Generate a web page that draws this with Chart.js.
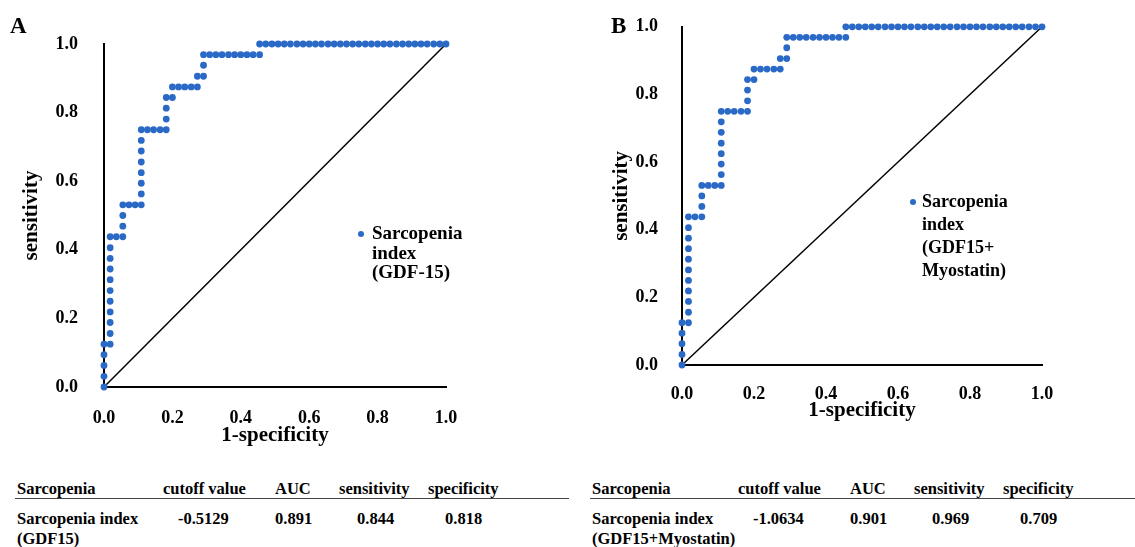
<!DOCTYPE html>
<html>
<head>
<meta charset="utf-8">
<script src="https://cdn.jsdelivr.net/npm/chart.js@4.4.0/dist/chart.umd.min.js"></script>
<style>
  body { margin: 0; background: #fff; }
  #page { position: relative; width: 1135px; height: 547px; overflow: hidden;
          font-family: 'Liberation Serif', 'Times New Roman', serif; font-weight: bold; color: #000; }
  .abs { position: absolute; white-space: nowrap; }
  canvas { position: absolute; top: 0; }
  .panel { font-size: 23px; line-height: 23px; }
  .cell { font-size: 16.5px; line-height: 20px; }
  .dot { position: absolute; width: 6px; height: 6px; border-radius: 50%; background: #2a69c6; }
  .rule { position: absolute; height: 1px; background: #444; }
</style>
</head>
<body>
<div id="page">
  <canvas id="rocA" width="565" height="460" style="left:0px"></canvas>
  <canvas id="rocB" width="565" height="460" style="left:570px"></canvas>
  <div class="abs panel" style="left:10px;top:14px">A</div>
  <div class="abs panel" style="left:611px;top:14px">B</div>
</div>
<script>
// ROC points, panel A (1-specificity, sensitivity)
const fprA = [
  0, 0, 0, 0, 0,
  0.018, 0.018, 0.018, 0.018, 0.018, 0.018, 0.018, 0.018, 0.018, 0.018, 0.018,
  0.036,
  0.055, 0.055, 0.055, 0.055,
  0.073, 0.091,
  0.109, 0.109, 0.109, 0.109, 0.109, 0.109, 0.109, 0.109,
  0.127, 0.145, 0.164,
  0.182, 0.182, 0.182, 0.182,
  0.2, 0.2,
  0.218, 0.236, 0.255,
  0.273, 0.273,
  0.291, 0.291, 0.291,
  0.309, 0.327, 0.345, 0.364, 0.382, 0.4, 0.418, 0.436,
  0.455, 0.455,
  0.473, 0.491, 0.509, 0.527, 0.545, 0.564, 0.582, 0.6, 0.618, 0.636,
  0.655, 0.673, 0.691, 0.709, 0.727, 0.745, 0.764, 0.782, 0.8, 0.818,
  0.836, 0.855, 0.873, 0.891, 0.909, 0.927, 0.945, 0.964, 0.982, 1
];
const tprA = [
  0, 0.031, 0.063, 0.094, 0.125,
  0.125, 0.156, 0.188, 0.219, 0.25, 0.281, 0.313, 0.344, 0.375, 0.406, 0.438,
  0.438,
  0.438, 0.469, 0.5, 0.531,
  0.531, 0.531,
  0.531, 0.563, 0.594, 0.625, 0.656, 0.688, 0.719, 0.75,
  0.75, 0.75, 0.75,
  0.75, 0.781, 0.813, 0.844,
  0.844, 0.875,
  0.875, 0.875, 0.875,
  0.875, 0.906,
  0.906, 0.938, 0.969,
  0.969, 0.969, 0.969, 0.969, 0.969, 0.969, 0.969, 0.969,
  0.969, 1,
  1, 1, 1, 1, 1, 1, 1, 1, 1, 1,
  1, 1, 1, 1, 1, 1, 1, 1, 1, 1,
  1, 1, 1, 1, 1, 1, 1, 1, 1, 1
];

// ROC points, panel B
const fprB = [
  0, 0, 0, 0, 0,
  0.018, 0.018, 0.018, 0.018, 0.018, 0.018, 0.018, 0.018, 0.018, 0.018, 0.018,
  0.036,
  0.055, 0.055, 0.055, 0.055,
  0.073, 0.091,
  0.109, 0.109, 0.109, 0.109, 0.109, 0.109, 0.109, 0.109,
  0.127, 0.145, 0.164,
  0.182, 0.182, 0.182, 0.182,
  0.2, 0.2,
  0.218, 0.236, 0.255,
  0.273, 0.273,
  0.291, 0.291, 0.291,
  0.309, 0.327, 0.345, 0.364, 0.382, 0.4, 0.418, 0.436,
  0.455, 0.455,
  0.473, 0.491, 0.509, 0.527, 0.545, 0.564, 0.582, 0.6, 0.618, 0.636,
  0.655, 0.673, 0.691, 0.709, 0.727, 0.745, 0.764, 0.782, 0.8, 0.818,
  0.836, 0.855, 0.873, 0.891, 0.909, 0.927, 0.945, 0.964, 0.982, 1
];
const tprB = [
  0, 0.031, 0.063, 0.094, 0.125,
  0.125, 0.156, 0.188, 0.219, 0.25, 0.281, 0.313, 0.344, 0.375, 0.406, 0.438,
  0.438,
  0.438, 0.469, 0.5, 0.531,
  0.531, 0.531,
  0.531, 0.563, 0.594, 0.625, 0.656, 0.688, 0.719, 0.75,
  0.75, 0.75, 0.75,
  0.75, 0.781, 0.813, 0.844,
  0.844, 0.875,
  0.875, 0.875, 0.875,
  0.875, 0.906,
  0.906, 0.938, 0.969,
  0.969, 0.969, 0.969, 0.969, 0.969, 0.969, 0.969, 0.969,
  0.969, 1,
  1, 1, 1, 1, 1, 1, 1, 1, 1, 1,
  1, 1, 1, 1, 1, 1, 1, 1, 1, 1,
  1, 1, 1, 1, 1, 1, 1, 1, 1, 1
];

// reference diagonal
const diagX = [0, 1];
const diagY = [0, 1];

const legendA = ['Sarcopenia', 'index', '(GDF-15)'];
const legendB = ['Sarcopenia', 'index', '(GDF15+', 'Myostatin)'];

const tableHead = ['Sarcopenia', 'cutoff value', 'AUC', 'sensitivity', 'specificity'];
const rowA = ['Sarcopenia index', '-0.5129', '0.891', '0.844', '0.818'];
const rowA2 = '(GDF15)';
const rowB = ['Sarcopenia index', '-1.0634', '0.901', '0.969', '0.709'];
const rowB2 = '(GDF15+Myostatin)';

const serif = "'Liberation Serif', 'Times New Roman', serif";
const dotBlue = '#2a69c6';
const tickFont = { family: serif, size: 18, weight: 'bold' };
const titleFont = { family: serif, size: 21, weight: 'bold' };

function rocChart(id, fpr, tpr, g) {
  return new Chart(document.getElementById(id).getContext('2d'), {
    type: 'scatter',
    data: {
      datasets: [{
        data: fpr.map((x, i) => ({ x: x, y: tpr[i] })),
        backgroundColor: dotBlue,
        borderWidth: 0,
        pointRadius: 3.4,
        pointHoverRadius: 3.4,
        clip: false
      }, {
        data: diagX.map((x, i) => ({ x: x, y: diagY[i] })),
        showLine: true,
        borderColor: '#000',
        borderWidth: 1.5,
        pointRadius: 0,
        clip: false
      }]
    },
    options: {
      responsive: false,
      animation: false,
      layout: { padding: { left: 0, top: g.top, right: g.right, bottom: g.bottom } },
      plugins: { legend: { display: false }, tooltip: { enabled: false } },
      scales: {
        x: {
          type: 'linear', min: 0, max: 1,
          grid: { display: false },
          border: { display: true, color: '#000', width: 2 },
          ticks: { stepSize: 0.2, padding: g.xTickPad, color: '#000', font: tickFont,
                   maxRotation: 0, autoSkip: false, callback: v => v.toFixed(1) },
          title: { display: true, text: '1-specificity', color: '#000', font: titleFont,
                   padding: { top: g.xTitlePad, bottom: g.xTitlePad } },
          afterFit: s => { s.height = g.xh; }
        },
        y: {
          type: 'linear', min: 0, max: 1,
          grid: { display: false },
          border: { display: true, color: '#000', width: 2 },
          ticks: { stepSize: 0.2, padding: g.yTickPad, color: '#000', font: tickFont,
                   autoSkip: false, callback: v => v.toFixed(1) },
          title: { display: true, text: 'sensitivity', color: '#000', font: titleFont,
                   padding: { top: g.yTitlePad, bottom: g.yTitlePad } },
          afterFit: s => { s.width = g.yw; }
        }
      }
    }
  });
}

rocChart('rocA', fprA, tprA, { top: 44, right: 119, bottom: 0, yw: 104, xh: 73,
  xTickPad: 13, yTickPad: 18, xTitlePad: 12, yTitlePad: 19 });
rocChart('rocB', fprB, tprB, { top: 22, right: 93, bottom: 20, yw: 112, xh: 75,
  xTickPad: 11, yTickPad: 16, xTitlePad: 17, yTitlePad: 39 });

// legends and tables
const page = document.getElementById('page');
function addText(txt, x, y, cls, style) {
  const d = document.createElement('div');
  d.className = 'abs ' + cls;
  d.textContent = txt;
  d.style.left = x + 'px';
  d.style.top = y + 'px';
  if (style) Object.assign(d.style, style);
  page.appendChild(d);
}
function addLegend(lines, x, y, size, lh, dotX, dotY) {
  lines.forEach((t, i) => addText(t, x, y + i * lh, '', { fontSize: size + 'px', lineHeight: lh + 'px' }));
  const dot = document.createElement('div');
  dot.className = 'dot';
  dot.style.left = (dotX - 3) + 'px';
  dot.style.top = (dotY - 3) + 'px';
  page.appendChild(dot);
}
addLegend(legendA, 372, 223, 19, 19.5, 361, 234);
addLegend(legendB, 922, 190, 18, 23, 913, 202);

const headX = [17, 163, 275, 339, 428];
const valX = [17, 178, 275, 357, 445];
function addTable(dx, row, row2, ruleW) {
  tableHead.forEach((t, i) => addText(t, headX[i] + dx, 479, 'cell'));
  row.forEach((t, i) => addText(t, valX[i] + dx, 509, 'cell'));
  addText(row2, 17 + dx, 529, 'cell');
  const r = document.createElement('div');
  r.className = 'rule';
  r.style.left = (15 + dx) + 'px';
  r.style.top = '498px';
  r.style.width = ruleW + 'px';
  page.appendChild(r);
}
addTable(0, rowA, rowA2, 554);
addTable(575, rowB, rowB2, 545);
</script>
</body>
</html>
